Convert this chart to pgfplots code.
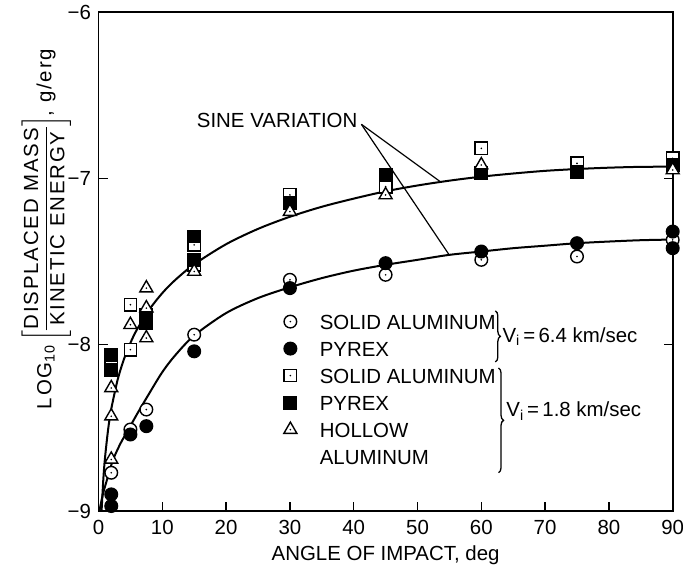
\documentclass[border=0pt]{standalone}
\usepackage{pgfplots}
\pgfplotsset{compat=1.18}
\usepackage{amsmath}
\usepackage{fontspec}
\setmainfont{Liberation Sans}
\usetikzlibrary{decorations.pathreplacing}
\newcommand\f{\fontsize{20.5}{24}\selectfont}
\newcommand\fy{\fontsize{20.5}{24}\selectfont\addfontfeature{LetterSpace=9}}
\newcommand\centerdot{\pgfscope\pgfsetfillcolor{black}\pgfpathcircle{\pgfpointorigin}{0.9bp}\pgfusepathqfill\endpgfscope}
\pgfdeclareplotmark{ocirc}{%
  \pgfpathcircle{\pgfpointorigin}{\pgfplotmarksize}\pgfusepathqfillstroke
  \centerdot}
\pgfdeclareplotmark{osq}{%
  \pgfpathrectangle{\pgfqpoint{-\pgfplotmarksize}{-\pgfplotmarksize}}{\pgfqpoint{2\pgfplotmarksize}{2\pgfplotmarksize}}\pgfusepathqfillstroke
  \centerdot}
\pgfdeclareplotmark{otri}{%
  \pgfpathmoveto{\pgfqpoint{0pt}{\pgfplotmarksize}}%
  \pgfpathlineto{\pgfqpointpolar{-30}{\pgfplotmarksize}}%
  \pgfpathlineto{\pgfqpointpolar{-150}{\pgfplotmarksize}}%
  \pgfpathclose\pgfusepathqfillstroke
  \centerdot}
\begin{document}
\begin{tikzpicture}
\begin{axis}[
  name=ax, scale only axis, width=574.2bp, height=499bp,
  clip=false,
  xmin=0, xmax=90, ymin=-9, ymax=-6,
  xtick={0,10,...,90}, ytick={-9,-8,-7,-6},
  yticklabels={−9,−8,−7,−6},
  /pgf/number format/assume math mode=true,
  tick align=inside, major tick length=9bp,
  xtick pos=bottom, ytick pos=both, yticklabel pos=left,
  tick label style={font=\f},
  xticklabel style={yshift=-6bp},
  yticklabel style={xshift=-4bp},
  axis line style={line width=1.8bp},
  tick style={line width=1.5bp, black},
  xlabel={ANGLE OF IMPACT, deg},
  xlabel style={font=\f, yshift=-4bp},
  ylabel={LOG\textsubscript{10}\,$\left[\vcenter{\hbox{\fy\setlength{\tabcolsep}{1bp}\renewcommand{\arraystretch}{1.05}\begin{tabular}{c}DISPLACED\ MASS\\\noalign{\hrule height 1.2bp}KINETIC\ ENERGY\end{tabular}}}\right]$, g/erg},
  ylabel style={font=\fy, at={(rel axis cs:-0.091,0.565)}, anchor=center, inner sep=0pt},
  legend style={at={(rel axis cs:0.319,0.397)}, anchor=north west, draw=none, fill=none,
    font=\f, row sep=10bp, inner sep=0pt, nodes={inner sep=1bp, text height=15bp, text depth=0bp},
    /tikz/every odd column/.append style={column sep=22bp}},
  legend cell align=left,
  every axis plot/.append style={line width=1.4bp},
]
% sine variation curves
\addplot[black, line width=2bp, smooth, tension=0.5, forget plot] coordinates {
(0.48,-9.0) (0.75,-8.813) (1,-8.688) (1.5,-8.512) (2,-8.387) (3,-8.211) (4,-8.086) (5,-7.990)
(6,-7.911) (8,-7.787) (10,-7.690) (12,-7.612) (15,-7.517) (20,-7.396) (25,-7.304) (30,-7.231)
(35,-7.171) (40,-7.122) (45,-7.078) (50,-7.043) (55,-7.014) (60,-6.990) (65,-6.971) (70,-6.955)
(75,-6.944) (80,-6.936) (85,-6.931) (90,-6.930)};
\addplot[black, line width=2bp, smooth, tension=0.5, forget plot] coordinates {
(0.15,-9.0) (0.4,-8.95) (0.75,-8.89) (1.5,-8.79) (2.3,-8.69) (3.5,-8.59) (4.7,-8.51) (6,-8.42)
(8,-8.29) (10,-8.165) (12,-8.065) (15,-7.945) (20,-7.81) (25,-7.72) (30,-7.655) (35,-7.60)
(40,-7.555) (45,-7.52) (50,-7.49) (55,-7.46) (60,-7.44) (65,-7.42) (70,-7.405) (75,-7.39)
(80,-7.38) (85,-7.372) (90,-7.368)};
% V = 6.4 km/sec, solid aluminum (open circles)
\addplot[only marks, mark=ocirc, mark size=6.3bp, mark options={fill=white, draw=black, line width=1.4bp}] coordinates {
(2,-8.77) (5,-8.51) (7.5,-8.39) (15,-7.94) (30,-7.61) (45,-7.58) (60,-7.49) (75,-7.47) (90,-7.37)};
\addlegendentry{SOLID ALUMINUM}
% V = 6.4 km/sec, pyrex (filled circles)
\addplot[only marks, mark=*, mark size=6.3bp, mark options={fill=black, draw=black}] coordinates {
(2,-8.90) (2,-8.97) (5,-8.54) (7.5,-8.49) (15,-8.04) (30,-7.66) (45,-7.51) (60,-7.44) (75,-7.39) (90,-7.32) (90,-7.42)};
\addlegendentry{PYREX}
% V = 1.8 km/sec, solid aluminum (open squares)
\addplot[only marks, mark=osq, mark size=6.2bp, mark options={fill=white, draw=black, line width=1.4bp}] coordinates {
(2,-8.10) (5,-7.76) (5,-8.03) (15,-7.40) (15,-7.52) (30,-7.10) (45,-7.05) (60,-6.82) (75,-6.91) (90,-6.88)};
\addlegendentry{SOLID ALUMINUM}
% V = 1.8 km/sec, pyrex (filled squares)
\addplot[only marks, mark=square*, mark size=6.2bp, mark options={fill=black, draw=black}] coordinates {
(2,-8.06) (2,-8.15) (7.5,-7.82) (7.5,-7.87) (15,-7.35) (15,-7.49) (30,-7.15) (45,-6.98) (60,-6.97) (75,-6.96) (90,-6.92)};
\addlegendentry{PYREX}
% V = 1.8 km/sec, hollow aluminum (open triangles)
\addplot[only marks, mark=otri, mark size=7.5bp, mark options={fill=white, draw=black, line width=1.4bp}] coordinates {
(2,-8.26) (2,-8.43) (2,-8.69) (5,-7.88) (7.5,-7.66) (7.5,-7.78) (7.5,-7.96) (15,-7.56) (30,-7.20) (45,-7.10) (60,-6.92) (90,-6.95)};
\addlegendentry{HOLLOW}
\addlegendimage{empty legend}
\addlegendentry{ALUMINUM}
% annotation
\node[anchor=east, font=\f, inner sep=0pt] at (axis cs:40.6,-6.655) {SINE VARIATION};
\draw[line width=1.2bp] (axis cs:41.2,-6.675) -- (axis cs:53.5,-7.018);
\draw[line width=1.2bp] (axis cs:41.2,-6.675) -- (axis cs:55.0,-7.462);
% braces
\draw[line width=1.3bp, decorate, decoration={brace, amplitude=5bp}] (axis cs:62.2,-7.797) -- (axis cs:62.2,-8.104);
\node[anchor=west, font=\f, inner sep=0pt] at (axis cs:63.3,-7.95) {V$_{\mathrm{i}}$\,=\,6.4 km/sec};
\draw[line width=1.3bp, decorate, decoration={brace, amplitude=5bp}] (axis cs:62.7,-8.14) -- (axis cs:62.7,-8.77);
\node[anchor=west, font=\f, inner sep=0pt] at (axis cs:63.9,-8.40) {V$_{\mathrm{i}}$\,=\,1.8 km/sec};
\coordinate (sw) at (rel axis cs:0,0);
\coordinate (ne) at (rel axis cs:1,1);
\end{axis}
\path (sw) ++(-98.5bp,-60bp) coordinate (bba);
\path (ne) ++(10.3bp,12bp) coordinate (bbb);
\pgfresetboundingbox
\path[use as bounding box] (bba) rectangle (bbb);
\end{tikzpicture}
\end{document}
